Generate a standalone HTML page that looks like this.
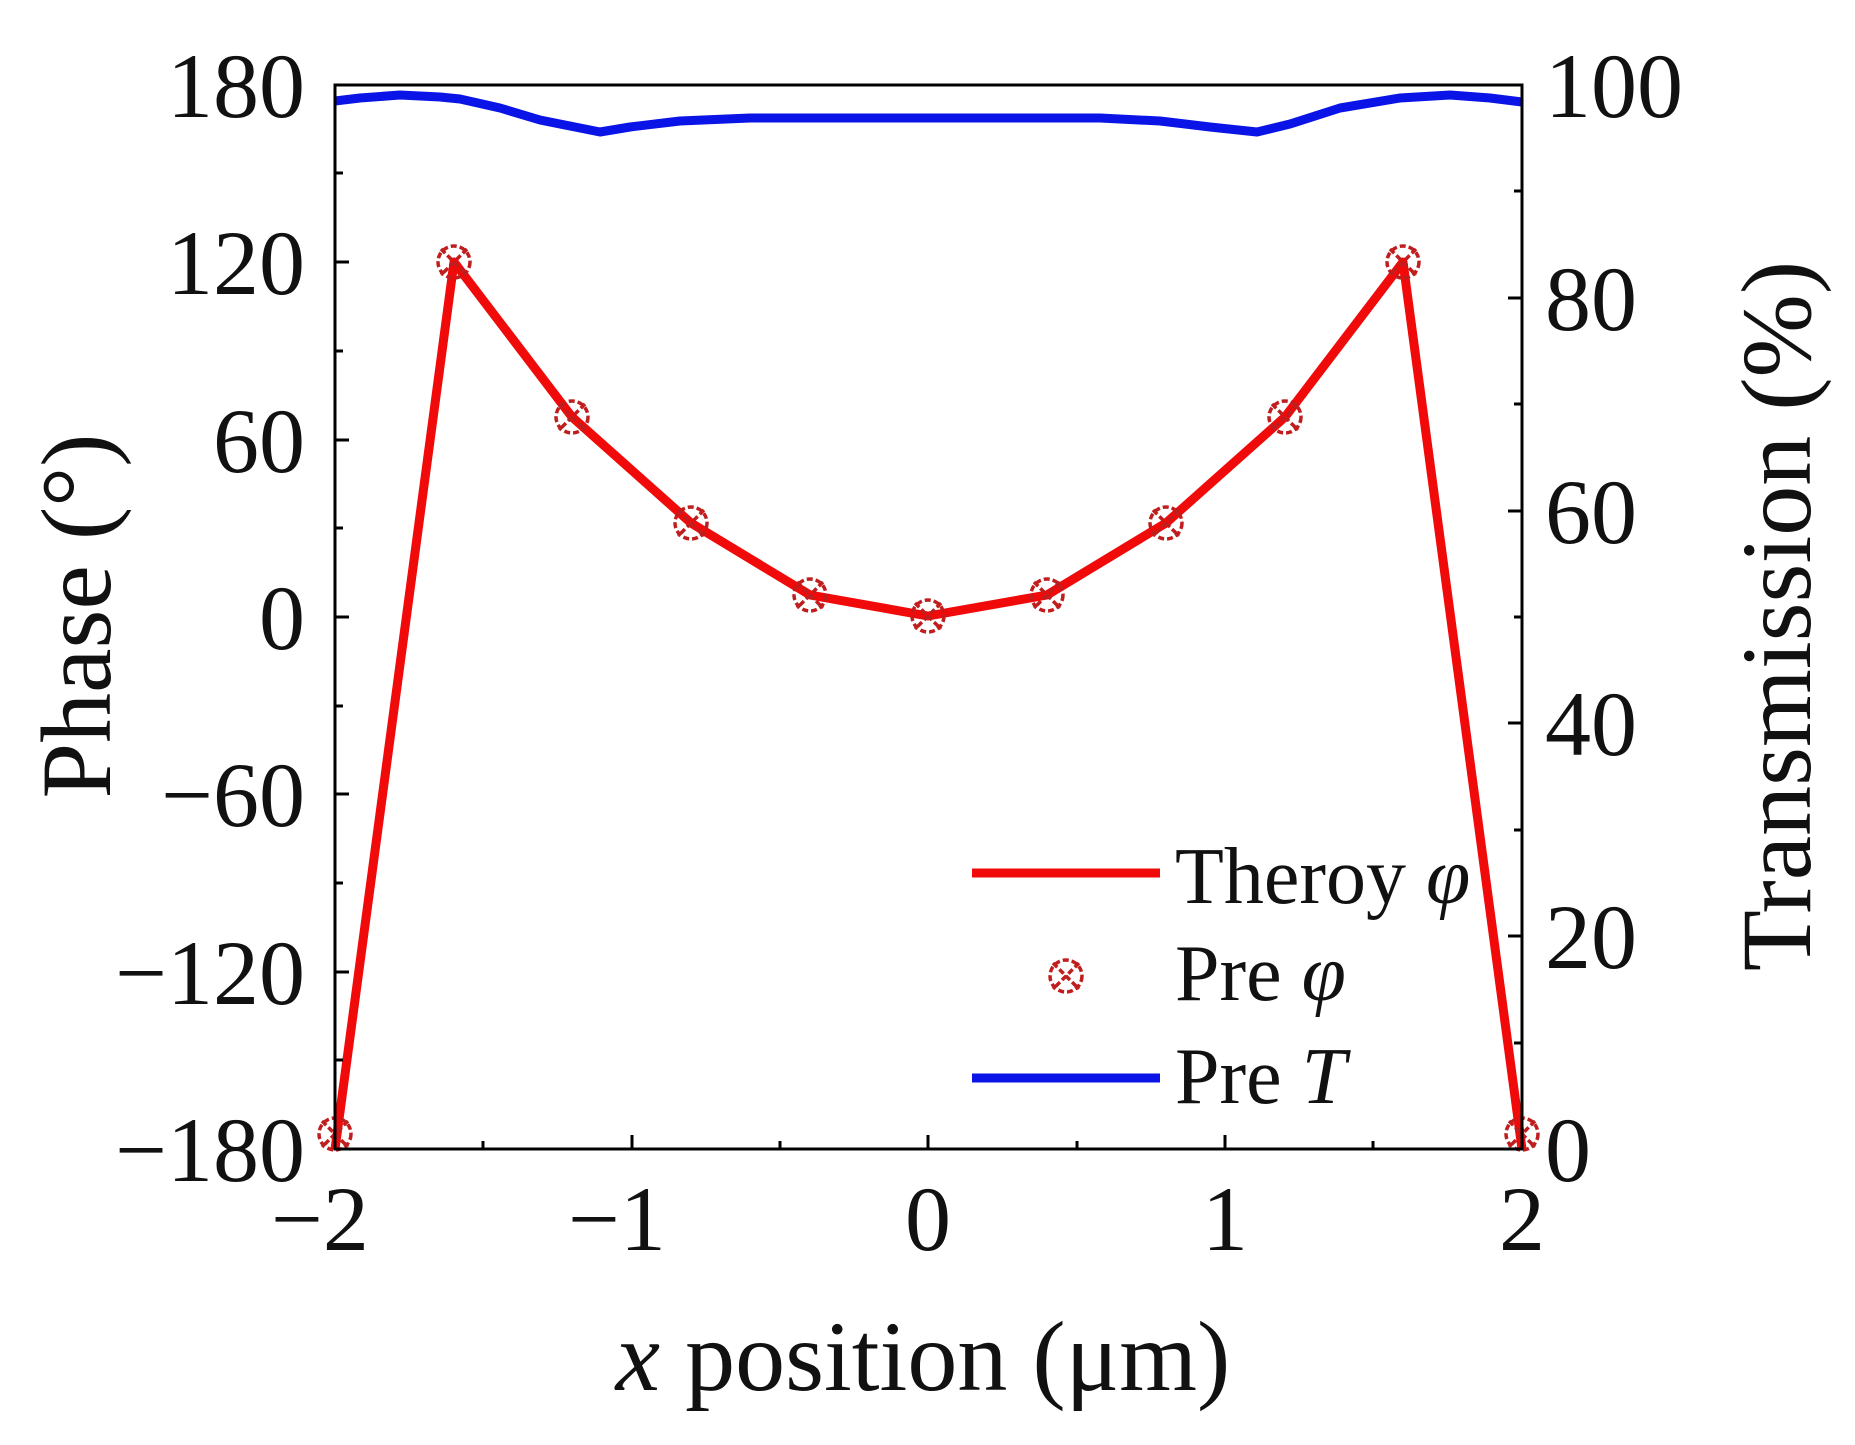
<!DOCTYPE html>
<html><head><meta charset="utf-8"><style>html,body{margin:0;padding:0;background:#fff}svg{display:block}</style></head>
<body>
<svg width="1855" height="1445" viewBox="0 0 1855 1445" xmlns="http://www.w3.org/2000/svg" font-family="'Liberation Serif', serif">
<rect width="1855" height="1445" fill="#fff"/>
<polyline fill="none" stroke="#0a14e6" stroke-width="9" stroke-linejoin="round" points="335,101 360,98 400,95 440,97 460,99 500,108 540,120 580,128 600,132 630,127 680,121 750,118 900,118 1100,118 1160,121 1210,127 1257,132 1290,124 1340,108 1400,98 1450,95 1490,98 1522,102"/>
<polyline fill="none" stroke="#f00a0a" stroke-width="9" stroke-linejoin="round" points="335,1149 454,262 572,417 691,523 810,595 928,616 1047,595 1166,523 1285,417 1403,262 1522,1149"/>
<g fill="none" stroke="#c01e1e" stroke-width="3.5" stroke-dasharray="6,3">
<g transform="translate(335,1134)"><circle r="16"/><path d="M-13,-13L13,13M13,-13L-13,13"/></g>
<g transform="translate(454,262)"><circle r="16"/><path d="M-13,-13L13,13M13,-13L-13,13"/></g>
<g transform="translate(572,417)"><circle r="16"/><path d="M-13,-13L13,13M13,-13L-13,13"/></g>
<g transform="translate(691,523)"><circle r="16"/><path d="M-13,-13L13,13M13,-13L-13,13"/></g>
<g transform="translate(810,595)"><circle r="16"/><path d="M-13,-13L13,13M13,-13L-13,13"/></g>
<g transform="translate(928,616)"><circle r="16"/><path d="M-13,-13L13,13M13,-13L-13,13"/></g>
<g transform="translate(1047,595)"><circle r="16"/><path d="M-13,-13L13,13M13,-13L-13,13"/></g>
<g transform="translate(1166,523)"><circle r="16"/><path d="M-13,-13L13,13M13,-13L-13,13"/></g>
<g transform="translate(1285,417)"><circle r="16"/><path d="M-13,-13L13,13M13,-13L-13,13"/></g>
<g transform="translate(1403,262)"><circle r="16"/><path d="M-13,-13L13,13M13,-13L-13,13"/></g>
<g transform="translate(1522,1134)"><circle r="16"/><path d="M-13,-13L13,13M13,-13L-13,13"/></g>
<g transform="translate(1066,976)"><circle r="16"/><path d="M-13,-13L13,13M13,-13L-13,13"/></g>
</g>
<rect x="335" y="85" width="1187" height="1064" fill="none" stroke="#000" stroke-width="3"/>
<g stroke="#000" stroke-width="3">
<path d="M335,262h14M335,440h14M335,617h14M335,794h14M335,972h14M335,173h8M335,351h8M335,528h8M335,706h8M335,883h8M335,1060h8"/>
<path d="M1522,298h-14M1522,511h-14M1522,723h-14M1522,936h-14M1522,191h-8M1522,404h-8M1522,617h-8M1522,830h-8M1522,1043h-8"/>
<path d="M632,1149v-14M928,1149v-14M1225,1149v-14M483,1149v-8M780,1149v-8M1077,1149v-8M1373,1149v-8"/>
</g>
<g font-size="92" text-anchor="end" fill="#111">
<text x="305" y="117">180</text>
<text x="305" y="294">120</text>
<text x="305" y="472">60</text>
<text x="305" y="649">0</text>
<text x="305" y="826">−60</text>
<text x="305" y="1004">−120</text>
<text x="305" y="1181">−180</text>
</g>
<g font-size="92" text-anchor="start" fill="#111">
<text x="1545" y="117">100</text>
<text x="1545" y="330">80</text>
<text x="1545" y="543">60</text>
<text x="1545" y="755">40</text>
<text x="1545" y="968">20</text>
<text x="1545" y="1181">0</text>
</g>
<g font-size="92" text-anchor="middle" fill="#111">
<text x="320" y="1250">−2</text>
<text x="617" y="1250">−1</text>
<text x="928" y="1250">0</text>
<text x="1225" y="1250">1</text>
<text x="1522" y="1250">2</text>
</g>
<text x="923" y="1390" font-size="100" text-anchor="middle" fill="#111"><tspan font-style="italic">x</tspan> position (μm)</text>
<text transform="translate(110,616) rotate(-90)" font-size="100" text-anchor="middle" fill="#111">Phase (°)</text>
<text transform="translate(1810,616) rotate(-90)" font-size="100" text-anchor="middle" fill="#111">Transmission (%)</text>
<line x1="972" y1="873" x2="1160" y2="873" stroke="#f00a0a" stroke-width="9"/>
<line x1="972" y1="1078" x2="1160" y2="1078" stroke="#0a14e6" stroke-width="9"/>
<g font-size="80" fill="#111">
<text x="1175" y="903">Theroy <tspan font-style="italic">φ</tspan></text>
<text x="1175" y="1000">Pre <tspan font-style="italic">φ</tspan></text>
<text x="1175" y="1103">Pre <tspan font-style="italic">T</tspan></text>
</g>
</svg>
</body></html>
